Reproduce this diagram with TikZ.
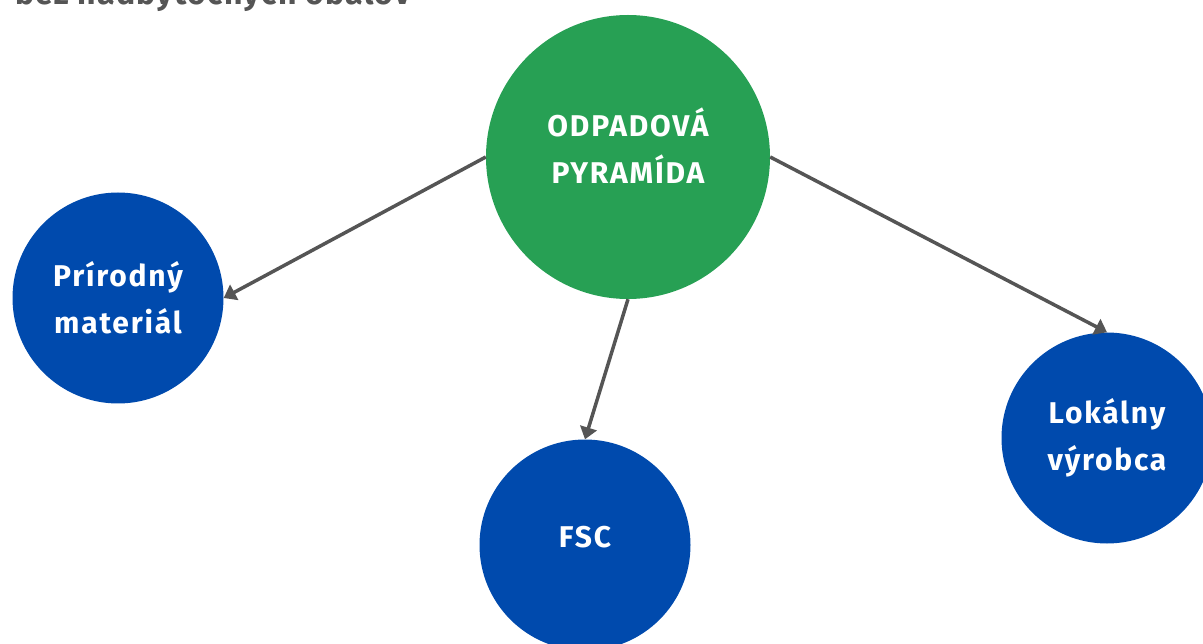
\documentclass[tikz,border=0pt]{standalone}
\usepackage{fontspec}
\setmainfont{Fira Sans}
\usetikzlibrary{arrows.meta}

\definecolor{pyrgreen}{RGB}{39,160,84}
\definecolor{nodeblue}{RGB}{0,74,173}
\definecolor{arrowgray}{RGB}{85,85,85}

\begin{document}
\begin{tikzpicture}[x=1pt, y=-1pt,
		bubble/.style={circle, fill=nodeblue, text=white, minimum size=211pt, inner sep=0pt, align=center,
			font=\fontsize{30}{47}\selectfont\bfseries\addfontfeatures{LetterSpace=6}},
		link/.style={draw=arrowgray, line width=3.5pt, -{Triangle[length=12pt, width=17pt]}}]
			\coordinate (topleft) at (0, 0);
			\coordinate (bottomright) at (1203, 644);
			
			\useasboundingbox (topleft) rectangle (bottomright);
			\clip (topleft) rectangle (bottomright);
			
			\node[anchor=base west, text=arrowgray, inner sep=0pt,
				font=\fontsize{32}{36}\selectfont\bfseries\addfontfeatures{LetterSpace=4}] (title) at (15, 5) {bez nadbytočných obalov};
			
			\node[bubble, fill=pyrgreen, minimum size=284pt, text depth=22pt] (pyramid) at (628, 157) {ODPADOVÁ\\PYRAMÍDA};
			\node[bubble] (natural) at (118, 298) {Prírodný\\materiál};
			\node[bubble, text depth=16pt] (fsc) at (585, 545) {FSC};
			\node[bubble] (local) at (1107, 438) {Lokálny\\výrobca};
			
			\draw[link] (pyramid.west) -- (natural.east);
			\draw[link] (pyramid.south) -- (fsc.north);
			\draw[link] (pyramid.east) -- (local.north);
			
		\end{tikzpicture}
\end{document}
